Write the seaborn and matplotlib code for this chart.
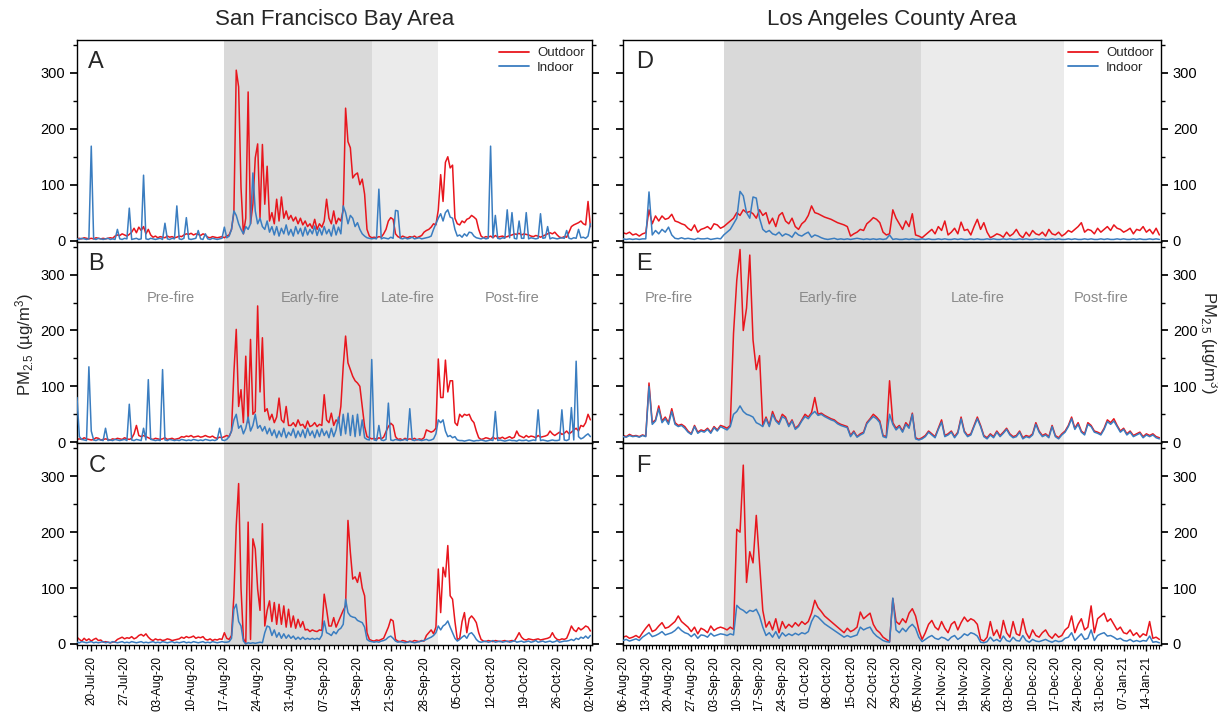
import numpy as np
import pandas as pd
import matplotlib
matplotlib.use('Agg')
import matplotlib.pyplot as plt
import matplotlib.dates as mdates
from matplotlib.ticker import FixedLocator
from matplotlib.lines import Line2D
import seaborn as sns

# ---------------- DATA ----------------
# San Francisco Bay Area: 12-hour steps starting 17-Jul-2020
sf_start = '2020-07-17'
sf_a_out = [3,4,3,5,4,3,4,3,5,4,3,4,3,4,5,4,
            8,10,9,12,10,8,11,
            15,22,14,24,18,25,12,20,10,
            6,8,5,7,6,5,8,6,7,5,6,8,7,
            10,12,11,13,10,12,11,9,12,10,
            6,5,7,6,5,6,7,5,
            8,10,20,50,305,275,95,12,40,266,
            30,65,148,173,41,172,65,133,35,50,
            30,74,35,78,40,53,38,45,35,42,
            30,40,28,35,25,30,22,38,20,30,
            24,35,74,40,30,53,30,40,35,55,
            237,177,166,112,118,121,100,110,83,20,
            8,5,6,5,7,6,12,20,35,41,
            38,12,7,5,8,6,5,7,6,8,
            5,7,9,15,18,20,24,30,28,55,
            118,70,140,150,130,135,40,30,28,35,
            32,38,40,45,42,38,20,8,
            5,7,6,8,5,9,6,7,8,6,7,9,
            10,12,11,13,10,12,11,10,
            8,7,9,8,6,8,10,12,
            14,12,15,10,
            6,5,7,6,
            15,25,28,30,32,35,30,28,70,25]
sf_a_in = [3,2,4,3,2,3, 169, 3,2,4,3,2,3,4,2,3,2, 20, 3,2,4,3, 58, 2,3,4,2,3, 117,
           3,2,4,3,2,3,4,2, 31, 3,2,4,3, 62, 3,2,4, 41, 3,2,3,4, 18, 3,2, 12,
           3,2,4,3,2,3,4, 24,
           5,8,20,53,45,30,20,12,25,20,30,121,53,30,40,25,20,35,15,25,
           10,25,8,22,12,28,10,20,8,25,12,22,8,24,10,20,12,26,9,22,10,25,12,20,8,28,10,24,12,
           62,50,30,45,40,25,32,20,12,8,5,4,3,
           4,3, 92, 3,5,4,3,6,4, 54,53,
           4,3,5,3,4,6,3,4,5,3,4,5,6,8,
           20,30,40,48,35,50,55,42,40,20,8,
           10,6,12,8,15,
           14,8,5,4,3,5,3,4, 169, 5, 45, 4,3,5,4, 55, 5, 50, 4,3, 35, 4,4, 50,
           3,5,4,3,4, 48, 4,5, 25, 3,5,4,3,4,5,4, 18, 4,3,5,4, 20, 5,6,4,8, 30]
sf_b_out = [5,6,5,8,6,5,4,5, 8,7, 4,5,6,5,4,6,5,7,6,5,8,6,5,7, 15,30,12,10,12,10,8,
            6,5,7,6,5,6,8,5,6,7,5,6,7, 10,9,11,10,12,9,10,11,9,10,12,10,9,11, 8,7,9,8,10,
            12,10,20,124,202,64,94,35,154,35,184,50,55,244,90,187,55,60,40,50,35,45,79,40,35,64,30,
            30,35,28,40,30,32,25,38,28,30,35,28,32,30,
            85,40,35,52,30,40,35,64,136,190,142,130,118,110,106,100,64,28,10,8,6,
            7,5,8,6,9,
            19,28,34,30,10,
            5,6,4,7,5,6,5,7,4,6,5,8,
            22,20,18,20,25,
            149,80,80,147,90,110,110,35,30,50,45,50,48,50,40,35,20,8,5,
            6,8,7,5,9,6,8,7,9,6,8,10,7,9,
            20,12,
            10,8,12,9,11,10,8,12,9,10,11,13,20,
            15,12,15,18,14,16,20,15,
            18,22,25,20,30,28,35,50,40]
sf_b_in = [80,10,5,4,3, 135,20, 4,3,5,4,3, 25, 3,4,3,5,4,3,4,5,3, 68, 4,3,5,4,3, 25, 4, 112,
           5,4,3,4,3, 130,
           4,3,5,4,3,4,3,5,4,3,4,3,5,4,3,4,3,5,4,3,4,3,5,
           25,4,3,
           5,10,20,40,50,25,30,15,25,45,20,30,50,25,30,20,28,15,25,12,
           22,8,20,10,25,8,18,12,24,8,20,10,22,8,25,12,20,8,22,10,24,12,20,8,25,10,22,
           45,12,50,15,52,12,48,10,50,12,40,8,5,4,148,
           4,3, 30, 4,3,5, 70, 4,3,5,4,3,4,5,3, 60, 4,3,5,4,3,4,5,3,4,6,
           15,40,35,40,20,10,12,8,10,
           4,3,3,2,3,4,3,2,3,3,4,3,2,3,4,3, 55,
           3,4,3,2,3,4,3,3,2,4,3,3,4,2,3,4,3, 58,
           3,4,3,2,3,4,3,3,4, 58, 4,3,5, 62, 4, 145, 10,6,8,12,15,10]
sf_c_out = [12,8,5,10,6,9,5,8,10,6,7, 3,4,3,2,3,4, 8,10,12,9,11,10,13,9,11, 15,17,14,18,12,
            8,6,9,7,8,6,7,9,8,6,7,8,9, 12,10,13,11,12,14,10,12,11,13, 8,7,9,6,8,7,9,8,20,
            10,8,15,86,212,287,100,10,0,218,
            8,188,170,98,60,215,32,60,77,40,
            74,35,71,35,68,30,62,30,50,28,
            44,30,40,25,26,22,25,23,22,25,
            24,89,62,32,32,47,30,40,50,60,
            68,221,164,116,120,110,128,100,86,20,
            8,6,
            5,7,6,8,10,20,30,44,41,8,
            5,4,6,5,3,5,4,6,5,4,6,5,
            15,20,25,18,30,134,56,137,120,176,86,80,40,8,10,40,56,20,45,50,45,38,20,8,
            5,4,6,5,4,6,5,4,5,6,4,5,6,5,
            12,20,12,
            8,7,9,8,7,8,9,7,8,9,10,12,
            20,12, 8,7,9,8,10,
            20,32,25,22,29,25,28,32,30,23]
sf_c_in = [3,2,4,3,2,3,4,2,3,2, 3,4,2,3,2,4,3,2,3,4, 2,3,2,4,3,2,3,4,2,3, 2,3,4,2,3,2,4,3,2,3,
           4,2,3,2,3,4,2,3,2,4, 3,2,3,4,2,3,2,4,3,2, 3,4,3,
           3,4,10,62,71,40,32,5,0,2, 1,2,1,2,3,2,20,32,30,15, 25,12,20,10,18,10,16,10,14,8,
           12,8,12,8,10,8,10,8,10,8, 15,41,20,18,15,22,18,25,28,35, 80,56,50,48,47,42,40,38,30,8,
           5,4,
           3,4,3,5,6,8,12,14,10,5,
           3,4,3,2,3,4,3,2,3,4,5,6,8,10,
           12,15,20,32,25,32,35,41,30,20,10,5,8,12,15,10,18,20,15,8,4,
           3,4,5,3,4,6,3,4,5,3, 4,5,3,4,6,3,4,5,3,4, 5,3,4,6,3,4,5,3,4,5, 3,4,6,3,4,5,
           5,6,8,6,10,8,12,10,14,10,15]

# Los Angeles County Area: daily steps starting 06-Aug-2020
la_start = '2020-08-06'
la_d_out = [14,12,15,10,12,8,12,14, 55, 30,44,35,44,38,40, 47, 35,33,30,28,22, 18,28,15,20,
            22,25,20,30,28,22, 25,30,35,40, 50, 45,55,50,52,48,40,55,45,50,
            30,40,25,45,50,35,30,40,25,20, 30,35,45, 62, 50,48,45,42,40,38,35,32,30,28,25,
            8,12,15,20,18, 30,35,41,38,32, 15,10,12, 55, 40,30,20,35,25, 48, 10,8,
            5,10,15,20,12,25,18,35,10,15,22,12,33,18,20,10,25,38,20,32,15,5,8,12,10,6,15,8,12,20,
            10,5,15,8,18,12,10,15,8,20,12,10,15,8,
            12,18,15,20,25,32,15,20,18,12,22,15,20,25,18,28,22,20,15,18,22,12,20,18,25,15,20,12,22,10]
la_d_in = [3,2,3,2,3,2,3,3, 87, 10,18,12,20,15,24,10, 4,3,5,3,4,3,2,4,3,3,4,2,3,4,3,
           10,15,20,30, 40,88,80,50,40,78,76,40, 20,15,18,12,10,15,
           8,12,10,6,15,10,8,12,15,6,10,8,5,
           3,2,3,4,2,3,2,3,2,3,4,3,2,3,2,3,2,3,2,3, 10,
           2,3,2,2,3,2,3,2,2,3, 2,3,2,2,3,2,3,2,2,3, 2,3,2,2,3,2,3,2,2,3, 2,3,2,2,3,2,3,2,2,3,
           2,3,2,2,3,2,3,2,2,3, 2,3,2,2,3,2,3,2,2,3, 2,3,2,2,3,2,3,2,2,3, 2,3,2,2,3,2,3,2,2,3,
           2,3,2]
la_e_out = [12,10,14,11,12,10,13,11, 106, 35,40,65,38,45,35, 60, 35,30,32,28,20, 15,30,18,22,
            20,25,18,28,22,30, 28,25,30, 195,290,345,200,240,335,183,130,155,30,
            45,30,55,40,35,50,45,30,40,25,30, 40,50,45,53, 80, 50,52,48,45,42,40,35,32,30,28,
            12,20,10,15,18, 35,42,50,45,38, 12,10, 110, 35,25,30,20,35,28, 52, 8,5,
            8,12,20,15,10,25,40,12,15,20,10,18,45,20,12,15,30,45,30,12,8,15,10,20,12,18,25,15,10,12,
            20,8,12,10,15,35,20,12,15,10,30,12,8,15,
            20,30,45,25,35,20,15,35,30,20,18,15,25,40,35,42,30,20,25,15,20,12,15,18,10,15,12,15,10,8]
la_e_in = [10,9,12,10,11,9,12,10, 100, 32,38,60,35,42,32, 55, 32,28,30,25,18, 14,28,16,20,
           18,23,16,26,20,28, 25,22,28, 50,55,65,55,50,48,45,35,32,28,
           42,28,50,38,32,46,42,28,38,23,28, 38,46,42,50, 55, 48,50,46,43,40,38,33,30,28,26,
           10,18,9,13,16, 33,40,46,42,35, 10,8, 50, 32,22,28,18,32,25, 50, 6,4,
           6,10,18,13,8,23,36,10,13,18,8,16,42,18,10,13,28,42,28,10,6,13,8,18,10,16,23,13,8,10,
           18,6,10,8,13,32,18,10,13,8,28,10,6,13,
           18,28,42,23,32,18,13,32,28,18,16,13,23,37,32,38,28,18,23,13,18,10,13,16,8,13,10,13,8,6]
la_f_out = [12,14,10,12,15,11, 20,28,35,22, 25,32,38,28,30,35,40, 50, 40,35,30,
            22,30,18,28,25,20,32,24,28,30, 28,25,30,26,
            205,200,320,110,165,145,230,145,60,
            30,40,25,45,20,40, 28,35,30,38,32,40,35,40, 55, 78, 65,58,50,45,40,35,
            30,25,20,28,22,25,30, 57, 45,50,55, 35,25,20,12,8,4, 81, 40,35,45,38, 55,63,50, 25,8,
            20,35,42,30,25,40,28,20,35,40,25,38,48,40,45,42,35,8,5,12,40,15,25,10,42,20,12,40,18,15,
            45,20,10,25,15,12,20,25,15,10,18,12,15,
            25,30,50,20,35,45,25,30,68,20,45,50,55,40,45,35,25,30,20,18,25,15,20,12,18,15,40,10,12,8]
la_f_in = [6,8,5,7,9,6, 12,16,20,13, 15,18,22,16,18,20,24, 30, 24,20,18,
           13,18,10,16,15,12,19,14,16,18, 17,15,18,16,
           69,63,60,55,60,58,62,50,30,
           15,20,12,22,10,20, 14,18,15,19,16,20,18,22, 40, 51, 48,42,36,32,28,24,
           20,16,12,15,12,14,16, 30, 25,28,30, 20,14,10,6,4,3, 82, 25,20,28,22, 30,35,28, 12,4,
           8,12,15,10,8,12,10,6,12,15,8,12,18,15,20,18,14,3,2,4,12,5,8,4,14,6,4,12,6,5,
           15,6,3,8,5,4,6,8,5,3,6,4,5,
           10,12,20,6,12,18,8,10,25,6,15,18,20,14,15,12,8,10,6,5,8,4,6,4,6,5,14,3,4,2]

# fire periods
sf_early = ('2020-08-17', '2020-09-17')
sf_late = ('2020-09-17', '2020-10-01')
la_early = ('2020-09-06', '2020-11-05 14:00')
la_late = ('2020-11-05 14:00', '2020-12-19 18:00')
sf_xlim = ('2020-07-17', '2020-11-02 08:00')
la_xlim = ('2020-08-06', '2021-01-18 12:00')
sf_first_tick, la_first_tick = '2020-07-20', '2020-08-06'
phase_labels = ['Pre-fire', 'Early-fire', 'Late-fire', 'Post-fire']
sf_phase_pos = ['2020-08-05 18:00', '2020-09-04', '2020-09-24 12:00', '2020-10-16 12:00']
la_phase_pos = ['2020-08-20', '2020-10-08', '2020-11-23', '2020-12-31']
panel_letters = [['A', 'B', 'C'], ['D', 'E', 'F']]
titles = ['San Francisco Bay Area', 'Los Angeles County Area']
ylabel = 'PM$_{2.5}$ (µg/m$^3$)'

RED = '#e8161d'
BLUE = '#3a7dc0'

# ---------------- STYLE ----------------
sns.set_theme(style='ticks')
plt.rcParams['font.family'] = ['Liberation Sans', 'DejaVu Sans']
plt.rcParams['mathtext.fontset'] = 'custom'
plt.rcParams['mathtext.rm'] = 'Liberation Sans'
plt.rcParams['mathtext.it'] = 'Liberation Sans:italic'
plt.rcParams['axes.edgecolor'] = 'black'
plt.rcParams['xtick.color'] = 'black'
plt.rcParams['ytick.color'] = 'black'

fig = plt.figure(figsize=(12.18, 7.12), dpi=100)
W, H = 1218.0, 712.0
col_x = [77 / W, 623 / W]
col_w = [515 / W, 538 / W]
top = 1 - 40 / H
ph = (605 / H) / 3


def make_dates(start, n, hours):
    return pd.Timestamp(start) + pd.to_timedelta(np.arange(n) * hours, unit='h')


series = [
    [(sf_a_out, sf_a_in), (sf_b_out, sf_b_in), (sf_c_out, sf_c_in)],
    [(la_d_out, la_d_in), (la_e_out, la_e_in), (la_f_out, la_f_in)],
]
starts = [sf_start, la_start]
steps = [12, 24]
earlies = [sf_early, la_early]
lates = [sf_late, la_late]
xlims = [sf_xlim, la_xlim]
first_ticks = [sf_first_tick, la_first_tick]
phase_pos = [sf_phase_pos, la_phase_pos]

for c in range(2):
    axes = []
    for r in range(3):
        ax = fig.add_axes([col_x[c], top - ph * (r + 1), col_w[c], ph],
                          sharex=axes[0] if axes else None)
        axes.append(ax)
        out, inn = series[c][r]
        d_out = make_dates(starts[c], len(out), steps[c])
        d_in = make_dates(starts[c], len(inn), steps[c])
        ax.axvspan(pd.Timestamp(earlies[c][0]), pd.Timestamp(earlies[c][1]),
                   color='#d9d9d9', lw=0, zorder=0)
        ax.axvspan(pd.Timestamp(lates[c][0]), pd.Timestamp(lates[c][1]),
                   color='#ebebeb', lw=0, zorder=0)
        sns.lineplot(x=d_out, y=np.asarray(out, float), ax=ax, color=RED,
                     linewidth=1.1, zorder=2)
        sns.lineplot(x=d_in, y=np.asarray(inn, float), ax=ax, color=BLUE,
                     linewidth=1.1, zorder=3)
        ax.set_ylim(-2, 359)
        ax.set_xlim(pd.Timestamp(xlims[c][0]), pd.Timestamp(xlims[c][1]))
        ax.set_yticks([0, 100, 200, 300])
        ax.yaxis.set_minor_locator(FixedLocator([50, 150, 250, 350]))
        ax.set_xlabel('')
        ax.set_ylabel('')
        for s in ax.spines.values():
            s.set_visible(True)
            s.set_linewidth(1.0)
            s.set_color('black')
        ax.tick_params(axis='y', which='both', direction='out', left=True, right=True,
                       labelsize=10.5, labelleft=(c == 0), labelright=(c == 1))
        ax.tick_params(axis='y', which='major', length=5)
        ax.tick_params(axis='y', which='minor', length=3)
        ax.tick_params(axis='x', which='both', direction='out', labelsize=8.5,
                       labelbottom=(r == 2), labelrotation=90)
        ax.tick_params(axis='x', which='major', length=4.5, width=1)
        ax.tick_params(axis='x', which='minor', length=3, width=0.8)
        ax.text(0.022 if c == 0 else 0.025, 0.89, panel_letters[c][r],
                transform=ax.transAxes, fontsize=17, ha='left', va='center')
        if r == 0:
            handles = [Line2D([], [], color=RED, lw=1.3, label='Outdoor'),
                       Line2D([], [], color=BLUE, lw=1.3, label='Indoor')]
            ax.legend(handles=handles, loc='upper right', frameon=False, fontsize=9.5,
                      handlelength=2.3, borderaxespad=0.15, labelspacing=0.15,
                      handletextpad=0.6)
        else:
            leg = ax.get_legend()
            if leg is not None:
                leg.remove()
        if r == 1:
            for lab, pos in zip(phase_labels, phase_pos[c]):
                ax.text(pd.Timestamp(pos), 258, lab, ha='center', va='center',
                        fontsize=10.5, color='#8a8a8a', zorder=4)
    major = pd.date_range(first_ticks[c], xlims[c][1], freq='7D')
    axes[2].xaxis.set_major_locator(FixedLocator(mdates.date2num(major)))
    axes[2].xaxis.set_minor_locator(mdates.DayLocator())
    axes[2].xaxis.set_major_formatter(mdates.DateFormatter('%d-%b-%y'))
    for lab in axes[2].get_xticklabels():
        lab.set_rotation(90)
        lab.set_ha('center')
    fig.text(col_x[c] + col_w[c] / 2, 1 - 20 / H, titles[c], ha='center', va='center',
             fontsize=16)

fig.text(25 / W, 1 - 345 / H, ylabel, rotation=90, ha='center', va='center', fontsize=12)
fig.text(1209 / W, 1 - 342 / H, ylabel, rotation=270, ha='center', va='center', fontsize=12)

fig.savefig('out.png', dpi=100)
